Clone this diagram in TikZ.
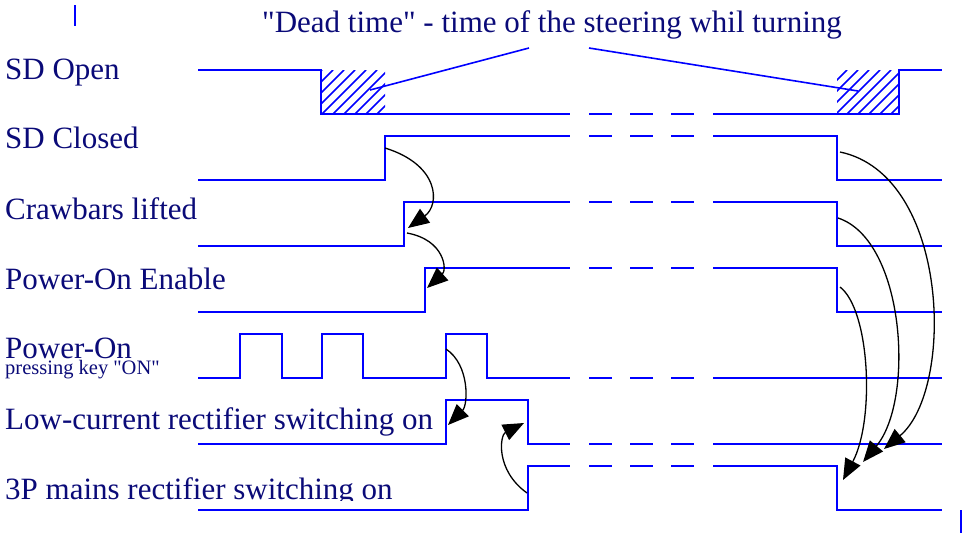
\documentclass[tikz,border=0pt]{standalone}
\usepackage{fontspec}
\setmainfont{Liberation Serif}[Ligatures=TeXOff]
\usetikzlibrary{arrows.meta}
\definecolor{sigblue}{RGB}{0,0,255}
\definecolor{txtnavy}{RGB}{10,10,120}
\begin{document}
\begin{tikzpicture}[x=1pt,y=-1pt,
  sig/.style={draw=sigblue,line width=2pt},
  hatchln/.style={draw=sigblue,line width=1.6pt},
  lead/.style={draw=sigblue,line width=1.6pt},
  arr/.style={draw=black,line width=1.3pt,-{Triangle[length=21pt,width=17pt]}},
  lbl/.style={anchor=base west,inner sep=0pt,text=txtnavy,font=\fontsize{31}{31}\selectfont},
  smalllbl/.style={anchor=base west,inner sep=0pt,text=txtnavy,font=\fontsize{20.5}{20.5}\selectfont}]
\useasboundingbox (0,0) rectangle (963,533);

% title and row labels
\node[lbl,anchor=base] (title) at (552,32) {"Dead time" - time of the steering whil turning};
\node[lbl] (lsdo) at (5,79) {SD Open};
\node[lbl] (lsdc) at (5,148) {SD Closed};
\node[lbl] (lcrw) at (5,219) {Crawbars lifted};
\node[lbl] (lpoe) at (5,289) {Power-On Enable};
\node[lbl] (lpo)  at (5,358) {Power-On};
\node[smalllbl] (lkey) at (5,374) {pressing key "ON"};
\node[lbl] (llc)  at (5,429) {Low-current rectifier switching on};
\begin{scope}
  \clip (0,440) rectangle (540,500);
  \node[lbl] (l3p) at (5,499) {3P mains rectifier switching on};
\end{scope}

% corner marks
\draw[sig] (75,5) -- (75,26);
\draw[sig] (961,510) -- (961,533);

% hatched dead-time areas
\begin{scope}
  \clip (321,70) rectangle (385,114);
  \foreach \c in {392,403,...,502} \draw[hatchln] (\c-114,114) -- (\c-70,70);
\end{scope}
\begin{scope}
  \clip (837,70) rectangle (899,114);
  \foreach \c in {906,917,...,1016} \draw[hatchln] (\c-114,114) -- (\c-70,70);
\end{scope}

% signal traces
\draw[sig] (198,70) -| (321,114) -- (570,114);
\draw[sig] (713,114) -| (899,70) -- (942,70);
\draw[sig] (198,180) -| (385,136) -- (570,136);
\draw[sig] (713,136) -| (837,180) -- (942,180);
\draw[sig] (198,246) -| (404,202) -- (570,202);
\draw[sig] (713,202) -| (837,246) -- (942,246);
\draw[sig] (198,312) -| (425,268) -- (570,268);
\draw[sig] (713,268) -| (837,312) -- (942,312);
\draw[sig] (198,378) -| (240,334) -| (282,378) -| (322,334) -| (363,378)
           -| (446,334) -| (487,378) -- (570,378);
\draw[sig] (713,378) -- (942,378);
\draw[sig] (198,444) -| (446,400) -| (528,444) -- (570,444);
\draw[sig] (713,444) -- (942,444);
\draw[sig] (198,510) -| (528,466) -- (570,466);
\draw[sig] (713,466) -| (837,510) -- (942,510);

% interrupted time axis
\foreach \y in {114,136,202,268,378,444,466}
  \draw[sig] (589,\y) -- (612,\y) (630,\y) -- (653,\y) (671,\y) -- (694,\y);

% leaders from the title to the hatched areas
\coordinate (tl) at (529,48);
\coordinate (tr) at (589,48);
\coordinate (hl) at (370,90);
\coordinate (hr) at (858,91);
\draw[lead] (tl) -- (hl);
\draw[lead] (tr) -- (hr);

% causal arrows, switching on
\coordinate (a1s) at (385,148);  \coordinate (a1e) at (408,228);
\coordinate (a2s) at (407,233);  \coordinate (a2e) at (427,288);
\coordinate (a3s) at (446,349);  \coordinate (a3e) at (448,425);
\coordinate (a4s) at (527,493);  \coordinate (a4e) at (524,423);
\draw[arr] (a1s) .. controls (440,165) and (440,205) .. (a1e);
\draw[arr] (a2s) .. controls (445,240) and (447,270) .. (a2e);
\draw[arr] (a3s) .. controls (470,365) and (468,405) .. (a3e);
\draw[arr] (a4s) .. controls (495,470) and (500,435) .. (a4e);

% causal arrows, switching off
\coordinate (a5s) at (840,152);  \coordinate (a5e) at (884,449);
\coordinate (a6s) at (838,218);  \coordinate (a6e) at (863,462);
\coordinate (a7s) at (840,287);  \coordinate (a7e) at (843,480);
\draw[arr] (a5s) .. controls (950,175) and (955,390) .. (a5e);
\draw[arr] (a6s) .. controls (905,240) and (915,400) .. (a6e);
\draw[arr] (a7s) .. controls (870,310) and (875,420) .. (a7e);
\end{tikzpicture}
\end{document}
